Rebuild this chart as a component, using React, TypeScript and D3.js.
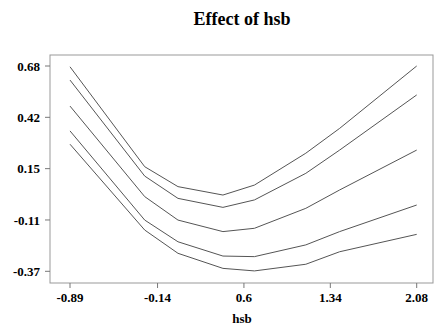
import React from "react";
import * as d3 from "d3";

// hsb values where each curve has a vertex
const hsbPoints = [-0.89, -0.25, 0.035, 0.42, 0.69, 1.13, 1.42, 2.08];

// five curves, top to bottom
const upperOuter = [0.676, 0.165, 0.063, 0.02, 0.071, 0.234, 0.361, 0.68];
const upperInner = [0.608, 0.117, 0.003, -0.043, -0.005, 0.131, 0.25, 0.532];
const estimate = [0.475, 0.012, -0.108, -0.167, -0.15, -0.048, 0.046, 0.25];
const lowerInner = [0.348, -0.108, -0.219, -0.292, -0.295, -0.235, -0.167, -0.031];
const lowerOuter = [0.28, -0.159, -0.278, -0.355, -0.368, -0.334, -0.27, -0.181];

const xTicks = [-0.89, -0.14, 0.6, 1.34, 2.08];
const xTickLabels = ["-0.89", "-0.14", "0.6", "1.34", "2.08"];
const yTicks = [-0.37, -0.1075, 0.155, 0.4175, 0.68];
const yTickLabels = ["-0.37", "-0.11", "0.15", "0.42", "0.68"];

const width = 435;
const height = 331;
const frame = { left: 50, top: 55, right: 433, bottom: 283 };

export default function App() {
  const x = d3.scaleLinear().domain([-0.89, 2.08]).range([70, 416.7]);
  const y = d3.scaleLinear().domain([-0.37, 0.68]).range([271.3, 66]);

  const line = d3
    .line<number>()
    .x((_, i) => x(hsbPoints[i]))
    .y((d) => y(d));

  const curves = [upperOuter, upperInner, estimate, lowerInner, lowerOuter];
  const font = "'Liberation Serif', 'Times New Roman', serif";

  return (
    <svg
      width={width}
      height={height}
      style={{ position: "absolute", left: 0, top: 0, background: "#fff" }}
    >
      <text
        x={242}
        y={25}
        textAnchor="middle"
        fontFamily={font}
        fontWeight="bold"
        fontSize={18}
      >
        Effect of hsb
      </text>

      {/* plot frame */}
      <rect
        x={frame.left}
        y={frame.top}
        width={frame.right - frame.left}
        height={frame.bottom - frame.top}
        fill="none"
        stroke="#999"
        strokeWidth={1}
      />

      {curves.map((c, i) => (
        <path key={i} d={line(c) || ""} fill="none" stroke="#555" strokeWidth={1} />
      ))}

      {/* y axis */}
      {yTicks.map((t, i) => (
        <g key={i} transform={`translate(0,${y(t)})`}>
          <line x1={frame.left - 5} x2={frame.left} stroke="#777" />
          <text
            x={40}
            dy="0.35em"
            textAnchor="end"
            fontFamily={font}
            fontWeight="bold"
            fontSize={13}
          >
            {yTickLabels[i]}
          </text>
        </g>
      ))}

      {/* x axis */}
      {xTicks.map((t, i) => (
        <g key={i} transform={`translate(${x(t)},0)`}>
          <line y1={frame.bottom} y2={frame.bottom + 5} stroke="#777" />
          <text
            y={302}
            textAnchor="middle"
            fontFamily={font}
            fontWeight="bold"
            fontSize={13}
          >
            {xTickLabels[i]}
          </text>
        </g>
      ))}

      <text
        x={242}
        y={323}
        textAnchor="middle"
        fontFamily={font}
        fontWeight="bold"
        fontSize={13}
      >
        hsb
      </text>
    </svg>
  );
}
